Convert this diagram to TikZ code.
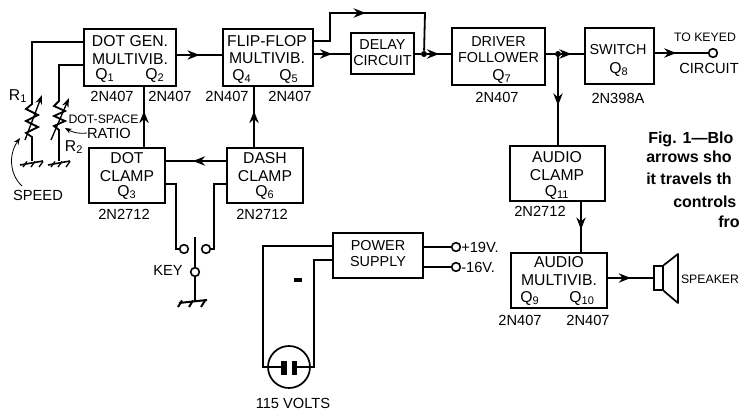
\documentclass[tikz,border=0pt]{standalone}
\usepackage{fontspec}
\setmainfont{Liberation Sans}
\usetikzlibrary{arrows.meta,decorations.markings,calc}
\tikzset{
  x=0.75pt,y=-0.75pt,
  blockbox/.style 2 args={draw,line width=1.8pt,minimum width=#1*0.75pt,minimum height=#2*0.75pt,inner sep=0pt},
  lbl/.style={font=\fontsize{11.8}{13}\selectfont,align=center,inner sep=0pt},
  lblsmall/.style={font=\fontsize{10.8}{12}\selectfont,align=center,inner sep=0pt},
  part/.style={font=\fontsize{11}{12}\selectfont,inner sep=0pt},
  partsmall/.style={font=\fontsize{9.2}{11}\selectfont,inner sep=0pt},
  captext/.style={font=\fontsize{12}{13}\selectfont\bfseries,inner sep=0pt,anchor=base west},
  wire/.style={line width=1.35pt,line join=miter},
  thin wire/.style={line width=0.6pt},
  midarrow/.style={postaction={decorate},decoration={markings,mark=at position #1 with {\arrow{Stealth[length=9pt,width=7pt]}}}},
  term/.style={circle,draw,line width=1.2pt,fill=white,minimum size=6.5pt,inner sep=0pt},
  jun/.style={circle,fill=black,minimum size=4.5pt,inner sep=0pt},
}
\begin{document}
\begin{tikzpicture}
\clip (0,0) rectangle (740,410);
\useasboundingbox (0,0) rectangle (740,410);
% blocks
\node[blockbox={92}{57}] (dotgen) at (130,57.5) {};
\node[blockbox={90}{57}] (flip) at (268,57.5) {};
\node[blockbox={63}{41}] (delay) at (382.5,53.5) {};
\node[blockbox={93}{57}] (driver) at (498.5,56.5) {};
\node[blockbox={69}{56}] (switch) at (619.5,56) {};
\node[blockbox={76}{55}] (dotclamp) at (127,175.5) {};
\node[blockbox={76}{55}] (dashclamp) at (265,175.5) {};
\node[blockbox={95}{55}] (audclamp) at (557.5,173.5) {};
\node[blockbox={96}{55}] (audmulti) at (559,280.5) {};
\node[blockbox={90}{45}] (power) at (378,255.5) {};
% block texts
\node[lbl] (t1) at (130,50) {DOT GEN.\\MULTIVIB.};
\node[lbl] (q1) at (105,75) {Q\textsubscript{1}};
\node[lbl] (q2) at (155,75) {Q\textsubscript{2}};
\node[lbl] (t2) at (267,49.5) {FLIP-FLOP\\MULTIVIB.};
\node[lbl] (q4) at (242,76) {Q\textsubscript{4}};
\node[lbl] (q5) at (289,76) {Q\textsubscript{5}};
\node[lblsmall] (t3) at (382.5,53) {DELAY\\CIRCUIT};
\node[lblsmall] (t4) at (498.5,50) {DRIVER\\FOLLOWER};
\node[lbl] (q7) at (502,76) {Q\textsubscript{7}};
\node[lblsmall] (t5) at (618,50) {SWITCH};
\node[lbl] (q8) at (619,69) {Q\textsubscript{8}};
\node[lbl] (t6) at (127,167) {DOT\\CLAMP};
\node[lbl] (q3) at (127,192) {Q\textsubscript{3}};
\node[lbl] (t7) at (265,167) {DASH\\CLAMP};
\node[lbl] (q6) at (265,192) {Q\textsubscript{6}};
\node[lbl] (t8) at (557,166) {AUDIO\\CLAMP};
\node[lbl] (q11) at (557,192) {Q\textsubscript{11}};
\node[lbl] (t9) at (559,271) {AUDIO\\MULTIVIB.};
\node[lbl] (q9) at (530,298) {Q\textsubscript{9}};
\node[lbl] (q10) at (582,298) {Q\textsubscript{10}};
\node[lblsmall] (t10) at (378,254) {POWER\\SUPPLY};
% part numbers
\node[part] (p1) at (112,96) {2N407};
\node[part] (p2) at (170,96) {2N407};
\node[part] (p4) at (227,96) {2N407};
\node[part] (p5) at (290,96) {2N407};
\node[part] (p7) at (497,97) {2N407};
\node[part] (p8) at (618,98) {2N398A};
\node[part] (p3) at (124,214) {2N2712};
\node[part] (p6) at (262,214) {2N2712};
\node[part] (p11) at (540,211) {2N2712};
\node[part] (p9) at (520,320) {2N407};
\node[part] (p10) at (588,320) {2N407};
% other labels
\node[partsmall] (keyed) at (705,37) {TO KEYED};
\node[part] (circ) at (709,68) {CIRCUIT};
\node[partsmall] (spk) at (710,279) {SPEAKER};
\node[partsmall] (dsr) at (103.5,119) {DOT-SPACE};
\node[part] (rat) at (109,133) {RATIO};
\node[part] (spd) at (38,195) {SPEED};
\node[part] (keyl) at (168,270) {KEY};
\node[part] (volts) at (293,403) {115 VOLTS};
\node[lbl] (r1l) at (18,96) {R\textsubscript{1}};
\node[lbl] (r2l) at (74,147) {R\textsubscript{2}};
\node[part,anchor=west] (v19) at (461,247) {+19V.};
\node[part,anchor=west] (v16) at (461,267) {-16V.};
% caption
\node[captext] (c1) at (648,143) {Fig. 1—Blo};
\node[captext] (c2) at (646,163) {arrows sho};
\node[captext] (c3) at (646,185) {it travels th};
\node[captext] (c4) at (673,207) {controls};
\node[captext] (c5) at (718,228) {fro};
% forward chain
\coordinate (j1) at (424,54);
\coordinate (j2) at (558,54);
\node[jun] (jd) at (j1) {};
\node[jun] (jf) at (j2) {};
\draw[wire,midarrow=.5] (dotgen.east |- 0,55) -- (flip.west |- 0,55);
\draw[wire,midarrow=.5] (flip.east |- 0,54) -- (delay.west |- 0,54);
\coordinate (by1) at (330,41);
\coordinate (by2) at (330,13);
\coordinate (by3) at (425,13);
\draw[wire,midarrow=.45] (flip.east |- by1) -- (by1) -- (by2) -- (by3) -- (jd);
\draw[wire] (delay.east |- jd) -- (jd);
\draw[wire,midarrow=.5] (jd) -- (driver.west |- jd);
\draw[wire] (driver.east |- jf) -- (jf);
\draw[wire,midarrow=.45] (jf) -- (switch.west |- jf);
\node[term] (tk) at (713,53) {};
\draw[wire,midarrow=.4] (switch.east |- tk) -- (tk);
\draw[wire,midarrow=.55] (jf) -- (audclamp.north -| jf);
\draw[wire,midarrow=.55] (audclamp.south -| 581,0) -- (audmulti.north -| 581,0);
% speaker
\node[draw,line width=1.2pt,minimum width=6.5pt,minimum height=18pt,inner sep=0pt] (spkbox) at (658.5,278) {};
\draw[line width=1.3pt,line join=round] (spkbox.north east) -- (678,254) -- (678,303) -- (spkbox.south east);
\draw[wire,midarrow=.5] (audmulti.east |- spkbox) -- (spkbox.west);
% clamps
\draw[wire,midarrow=.6] (dotclamp.north -| 144,0) -- (dotgen.south -| 144,0);
\draw[wire,midarrow=.6] (dashclamp.north -| 254,0) -- (flip.south -| 254,0);
\draw[wire,midarrow=.55] (dashclamp.west |- 0,161) -- (dotclamp.east |- 0,161);
% key
\node[term] (kl) at (184,249) {};
\node[term] (kr) at (206,249) {};
\node[term] (kc) at (195,272) {};
\coordinate (kt) at (195,237);
\coordinate (kg) at (195,301);
\coordinate (kb1) at (176,184);
\coordinate (kb2) at (214,184);
\draw[wire] (dotclamp.east |- kb1) -- (kb1) -- (kb1 |- kl) -- (kl);
\draw[wire] (dashclamp.west |- kb2) -- (kb2) -- (kb2 |- kr) -- (kr);
\draw[wire] (kt) -- (kc);
\draw[wire] (kc) -- (kg);
\draw[line width=1.5pt] (179,303) -- (207,300);
\foreach \xx in {182,193,205}{\draw[line width=1.5pt] (\xx,300.5) -- (\xx-4,307);}
% R1
\coordinate (r1a) at (32,42);
\coordinate (r1b) at (32,104);
\coordinate (r1g) at (32,161);
\draw[wire] (dotgen.west |- r1a) -- (r1a) -- (r1b) -- ++(-6,5) -- ++(12,6) -- ++(-12,6) -- ++(12,6) -- ++(-12,6) -- ++(6,4) -- (r1g);
\draw[line width=1pt,-{Stealth[length=7pt,width=5pt]}] (25,140) -- (42,95);
\draw[line width=1.2pt] (20,165) -- (43,161);
\foreach \xx in {27,35,43}{\draw[line width=1pt] (\xx,161.5) -- (\xx-4,167);}
% R2
\coordinate (r2a) at (59,65);
\coordinate (r2b) at (59,101);
\coordinate (r2g) at (59,161);
\draw[wire] (dotgen.west |- r2a) -- (r2a) -- (r2b) -- ++(-5,5) -- ++(11,5) -- ++(-11,5) -- ++(11,5) -- ++(-11,5) -- ++(5,4) -- (r2g);
\draw[line width=1pt,-{Stealth[length=7pt,width=5pt]}] (51,140) -- (69,98);
\draw[line width=1.2pt] (48,165) -- (70,161);
\foreach \xx in {55,62,70}{\draw[line width=1pt] (\xx,161.5) -- (\xx-4,167);}
% pointers
\draw[thin wire,-{Stealth[length=5pt,width=4pt]}] (rat.west) .. controls (78,134) and (72,132) .. (65,128);
\draw[thin wire,-{Stealth[length=5pt,width=4pt]}] (22,186) .. controls (10,175) and (8,155) .. (20,138);
% power
\node[term] (tp) at (456,247) {};
\node[term] (tm) at (456,267) {};
\draw[line width=0.8pt] (power.east |- tp) -- (tp);
\draw[line width=0.8pt] (power.east |- tm) -- (tm);
\node[circle,draw,line width=1.3pt,minimum size=31.5pt,inner sep=0pt] (plug) at (289,367) {};
\coordinate (pl) at (263,367);
\coordinate (pr) at (314,367);
\draw[wire] (power.west |- 0,246) -- (pl |- 0,246) -- (pl) -- (284,367);
\draw[wire] (power.west |- 0,260) -- (pr |- 0,260) -- (pr) -- (294,367);
\fill (281,361) rectangle (287,375);
\fill (292,361) rectangle (297,375);
\fill (294,278) rectangle (302,282);
\end{tikzpicture}
\end{document}
